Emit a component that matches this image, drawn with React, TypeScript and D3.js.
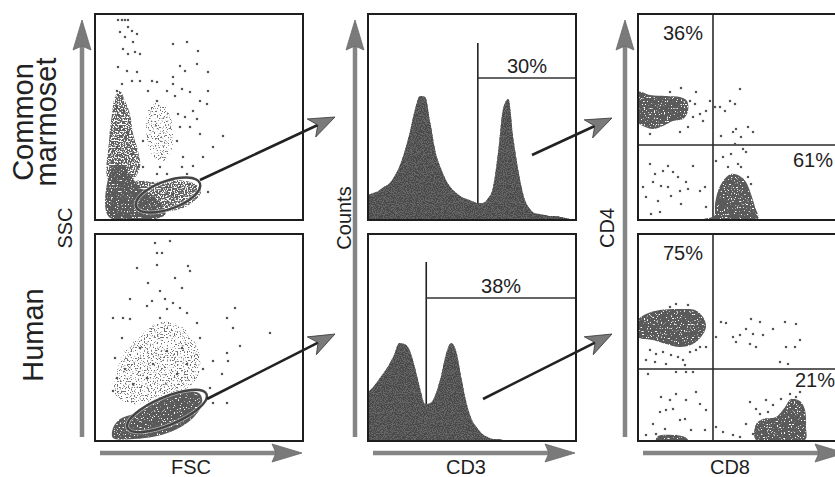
import React from "react";
import * as d3 from "d3";

type Pt = [number, number];

// ---------- FSC / SSC (relative channel units, 0-208 x 0-206) ----------
const marmosetCore: Pt[] = [[14, 3], [14, 45], [20, 55], [28, 55], [35, 45], [45, 33], [57, 24], [68, 14], [70, 5]];
const marmosetColumn: Pt[] = [[14, 39], [14, 79], [17, 106], [20, 123], [25, 129], [30, 119], [35, 106], [38, 86], [43, 69], [45, 53], [38, 41]];
const marmosetGranulo: Pt[] = [[53, 109], [60, 119], [68, 116], [75, 104], [78, 88], [76, 69], [68, 59], [59, 63], [53, 76], [51, 93]];
const marmosetGateCloud: Pt[] = [[40, 38], [60, 38], [80, 40], [100, 36], [106, 28], [98, 18], [85, 11], [60, 8], [40, 14]];
const marmosetEvents: Pt[] = [
  [23, 200], [27, 200], [30, 200], [33, 200], [25, 188], [33, 193], [37, 189], [30, 183], [38, 178], [42, 186],
  [28, 171], [33, 166], [40, 168], [45, 166], [23, 153], [32, 149], [42, 148], [37, 139], [27, 136], [22, 129],
  [45, 139], [57, 139], [62, 138], [78, 176], [92, 178], [103, 169], [85, 154], [90, 149], [102, 156], [113, 148],
  [78, 143], [87, 131], [95, 128], [80, 124], [105, 119], [112, 116], [98, 109], [90, 103], [102, 101], [95, 93],
  [105, 86], [113, 129], [128, 84], [118, 73], [108, 63], [98, 54], [113, 28], [92, 46], [87, 53], [62, 46],
  [48, 53], [53, 129], [62, 119], [72, 129], [78, 136], [22, 113], [29, 109], [25, 93], [33, 86], [22, 73],
  [37, 66], [48, 79], [82, 79], [85, 93], [83, 106], [65, 53], [72, 46], [88, 63], [58, 33], [72, 33],
  [85, 33], [95, 36], [78, 26], [100, 33],
];
const humanCore: Pt[] = [[18, 3], [18, 13], [25, 22], [38, 27], [55, 37], [72, 45], [92, 50], [105, 47], [107, 37], [98, 23], [82, 12], [62, 5], [38, 2]];
const humanCloud: Pt[] = [[20, 47], [22, 70], [32, 93], [48, 107], [62, 118], [82, 117], [97, 103], [105, 83], [102, 63], [92, 53], [65, 43], [38, 37]];
const humanEvents: Pt[] = [
  [60, 198], [75, 200], [62, 188], [67, 188], [42, 173], [62, 176], [93, 175], [95, 170], [80, 163], [53, 158],
  [65, 150], [87, 153], [70, 142], [57, 140], [78, 138], [35, 142], [52, 135], [72, 132], [85, 133], [92, 128],
  [18, 123], [28, 123], [35, 122], [65, 123], [140, 133], [175, 108], [132, 123], [138, 113], [145, 95], [132, 88],
  [133, 80], [118, 80], [108, 72], [127, 67], [115, 53], [122, 47], [132, 38], [118, 38], [105, 103], [102, 118],
  [27, 103], [20, 83], [22, 63], [18, 50], [30, 72], [38, 57], [45, 93], [87, 93], [92, 77], [82, 67],
  [58, 77], [72, 90], [52, 63], [37, 3], [45, 4],
];
// lymphocyte gates: centre, radii, tilt in degrees
const marmosetGate = { cx: 73, cy: 25, rx: 34, ry: 14, angle: -20 };
const humanGate = { cx: 72, cy: 30, rx: 43, ry: 14, angle: -23 };

// ---------- CD3 histograms ----------
const cd3Channels = d3.range(0, 1001, 25);
const marmosetCd3: number[] = [
  25, 27, 29, 33, 36, 43, 53, 68, 87, 110, 124, 123, 97, 68, 52, 40, 32, 27, 23, 21, 19,
  17, 17, 21, 32, 67, 112, 121, 80, 47, 23, 12, 7, 6, 5, 4, 4, 3, 2, 1, 1,
];
const humanCd3: number[] = [
  49, 54, 61, 68, 76, 86, 98, 97, 91, 74, 53, 37, 38, 47, 64, 87, 98, 89, 62, 37, 21,
  13, 7, 4, 2, 2, 1, 1, 1, 1, 1, 1, 1, 1, 1, 1, 1, 1, 1, 1, 1,
];
const cd3Gates = [{ cut: 528, level: 142, top: 177 }, { cut: 280, level: 143, top: 179 }];
const cd3Percents = ["30%", "38%"];

// ---------- CD8 / CD4 ----------
const marmosetCd4Core: Pt[] = [[0, 128], [12, 125], [28, 124], [42, 123], [49, 119], [50, 109], [45, 101], [35, 99], [25, 94], [15, 91], [5, 94], [0, 98]];
const marmosetCd8Core: Pt[] = [[66, 1], [76, 4], [77, 16], [80, 29], [85, 39], [93, 46], [102, 44], [108, 38], [113, 26], [117, 13], [120, 1]];
const marmosetSubsetEvents: Pt[] = [
  [52, 119], [57, 116], [62, 106], [68, 109], [72, 119], [77, 113], [82, 113], [87, 109], [92, 119], [97, 116],
  [102, 131], [58, 128], [43, 132], [32, 128], [55, 103], [65, 99], [42, 88], [12, 86], [50, 93], [83, 84],
  [95, 88], [98, 91], [103, 83], [110, 93], [115, 88], [97, 76], [105, 71], [108, 68], [93, 66], [85, 63],
  [78, 59], [100, 56], [90, 53], [110, 43], [113, 36], [103, 53], [12, 56], [17, 46], [25, 49], [30, 54],
  [35, 48], [40, 43], [15, 38], [23, 34], [30, 33], [50, 31], [55, 54], [62, 29], [67, 33], [5, 33],
  [8, 23], [20, 19], [33, 24], [43, 16], [13, 6], [22, 8], [68, 13], [48, 38], [42, 29],
];
const humanCd4Core: Pt[] = [[0, 121], [8, 127], [22, 131], [42, 132], [57, 131], [65, 124], [68, 114], [63, 104], [55, 97], [42, 94], [28, 97], [15, 101], [0, 104]];
const humanCd8Core: Pt[] = [[118, 1], [118, 17], [125, 22], [138, 24], [147, 34], [153, 42], [162, 40], [167, 31], [168, 14], [167, 1]];
const humanDnStrip: Pt[] = [[18, 1], [20, 5], [35, 6], [47, 4], [50, 1]];
const humanSubsetEvents: Pt[] = [
  [12, 91], [18, 87], [25, 89], [33, 86], [40, 84], [45, 81], [47, 76], [52, 89], [58, 91], [62, 94],
  [8, 81], [17, 79], [28, 77], [38, 69], [48, 69], [10, 67], [55, 69], [68, 94], [32, 134], [50, 136],
  [38, 137], [83, 119], [88, 118], [95, 104], [102, 106], [108, 112], [113, 122], [115, 107], [118, 94], [122, 119],
  [125, 106], [135, 112], [147, 119], [148, 94], [158, 117], [162, 101], [157, 94], [142, 79], [150, 77], [78, 104],
  [98, 99], [112, 97], [23, 44], [32, 41], [58, 49], [22, 29], [28, 31], [35, 32], [42, 21], [47, 22],
  [62, 37], [68, 31], [53, 11], [27, 12], [18, 7], [23, 4], [32, 4], [38, 5], [45, 3], [8, 6],
  [67, 11], [15, 17], [48, 41], [38, 47], [112, 39], [118, 32], [128, 41], [135, 36], [143, 42], [152, 47],
  [158, 44], [162, 37], [130, 29], [122, 27], [108, 17], [95, 6], [102, 4], [78, 14], [85, 9], [162, 49],
  [165, 32], [115, 7],
];
const quadCuts = [{ cd8: 75, cd4: 75 }, { cd8: 75, cd4: 72 }];
const cd4Percents = ["36%", "75%"];
const cd8Percents = ["61%", "21%"];

const species = [["Common", "marmoset"], ["Human"]];

// ---------- layout ----------
const W = 835;
const H = 477;
const PW = 208;
const FONT = "'Liberation Sans', Arial, Helvetica, sans-serif";
const cols = [95, 368, 638];
const rows = [{ top: 14, h: 206 }, { top: 234, h: 207 }];
const INK = "#1e1e1e";

type Cloud = { pts: Pt[]; tone: "core" | "mid" | "light" };

function headPath(tx: number, ty: number, dx: number, dy: number, len: number, half: number, notch: number) {
  const m = Math.hypot(dx, dy);
  const ux = dx / m, uy = dy / m, nx = -uy, ny = ux;
  const bx = tx - ux * len, by = ty - uy * len;
  return `M${tx},${ty}L${bx + nx * half},${by + ny * half}L${tx - ux * (len - notch)},${ty - uy * (len - notch)}L${bx - nx * half},${by - ny * half}Z`;
}

function Arrow({ from, to, axis }: { from: Pt; to: Pt; axis?: boolean }) {
  const dx = to[0] - from[0], dy = to[1] - from[1];
  const m = Math.hypot(dx, dy);
  const len = axis ? 30 : 26, half = axis ? 9 : 10, notch = axis ? 4 : 7;
  const ex = to[0] - (dx / m) * (len - notch), ey = to[1] - (dy / m) * (len - notch);
  return (
    <g>
      <line x1={from[0]} y1={from[1]} x2={ex} y2={ey} stroke={axis ? "#858585" : "#222"} strokeWidth={axis ? 4.5 : 2.6} />
      <path d={headPath(to[0], to[1], dx, dy, len, half, notch)} fill="#7a7a7a" stroke={axis ? "#6a6a6a" : "#333"} strokeWidth={0.8} />
    </g>
  );
}

function Scatter({ id, left, top, h, clouds, events, gate, quad }: {
  id: string; left: number; top: number; h: number; clouds: Cloud[]; events: Pt[];
  gate?: { cx: number; cy: number; rx: number; ry: number; angle: number };
  quad?: { cd8: number; cd4: number };
}) {
  const x = d3.scaleLinear().domain([0, PW]).range([left, left + PW]);
  const y = d3.scaleLinear().domain([0, h]).range([top + h, top]);
  const blob = d3.line<Pt>().x((d) => x(d[0])).y((d) => y(d[1])).curve(d3.curveCatmullRomClosed.alpha(0.5));
  const fills = { core: "#5a5a5a", mid: "#606060", light: "#707070" };
  const filters = { core: "url(#grainDense)", mid: "url(#grainMid)", light: "url(#grainSparse)" };
  const ell = gate && {
    cx: x(gate.cx), cy: y(gate.cy),
    rx: x(gate.rx) - x(0), ry: y(0) - y(gate.ry),
    transform: `rotate(${gate.angle} ${x(gate.cx)} ${y(gate.cy)})`,
  };
  return (
    <g>
      <clipPath id={id}>
        <rect x={left} y={top} width={PW} height={h} />
      </clipPath>
      <g clipPath={`url(#${id})`}>
        {quad && (
          <g stroke="#2a2a2a" strokeWidth={1.6}>
            <line x1={x(quad.cd8)} x2={x(quad.cd8)} y1={y(0)} y2={y(h)} />
            <line x1={x(0)} x2={x(PW)} y1={y(quad.cd4)} y2={y(quad.cd4)} />
          </g>
        )}
        {clouds.map((c, i) => (
          <path key={i} d={blob(c.pts) ?? ""} fill={fills[c.tone]} filter={filters[c.tone]} />
        ))}
        {events.map((d, i) => (
          <rect key={i} x={x(d[0]) - 1.1} y={y(d[1]) - 1.1} width={2.2} height={2.2} fill="#555" />
        ))}
        {ell && (
          <g>
            <ellipse {...ell} fill="none" stroke="#fff" strokeOpacity={0.5} strokeWidth={4} />
            <ellipse {...ell} fill="none" stroke="#444" strokeWidth={2.4} />
          </g>
        )}
      </g>
      <rect x={left} y={top} width={PW} height={h} fill="none" stroke={INK} strokeWidth={2} />
    </g>
  );
}

function Histogram({ left, top, h, counts, gate, label }: {
  left: number; top: number; h: number; counts: number[];
  gate: { cut: number; level: number; top: number }; label: string;
}) {
  const x = d3.scaleLinear().domain([0, 1000]).range([left, left + PW]);
  const y = d3.scaleLinear().domain([0, h]).range([top + h, top]);
  const area = d3.area<number>()
    .x((_, i) => x(cd3Channels[i]))
    .y0(y(0))
    .y1((d) => y(d))
    .curve(d3.curveMonotoneX);
  return (
    <g>
      <line x1={x(gate.cut)} x2={x(gate.cut)} y1={y(0)} y2={y(gate.top)} stroke="#222" strokeWidth={1.6} />
      <line x1={x(gate.cut)} x2={x(1000)} y1={y(gate.level)} y2={y(gate.level)} stroke="#333" strokeWidth={1.6} />
      <path d={area(counts) ?? ""} fill="#666" />
      <path d={area(counts) ?? ""} fill="#4a4a4a" filter="url(#grainFine)" />
      <text x={(x(gate.cut) + x(1000)) / 2} y={y(gate.level) - 5} textAnchor="middle" fontSize={20} fill={INK}>{label}</text>
      <rect x={left} y={top} width={PW} height={h} fill="none" stroke={INK} strokeWidth={2} />
    </g>
  );
}

function Grain({ id, cut, freq }: { id: string; cut: number; freq: number }) {
  return (
    <filter id={id} x="0" y="0" width="1" height="1" filterUnits="objectBoundingBox">
      <feTurbulence type="fractalNoise" baseFrequency={freq} numOctaves={1} seed={7} result="noise" />
      <feColorMatrix in="noise" type="matrix" values={`0 0 0 0 0  0 0 0 0 0  0 0 0 0 0  12 0 0 0 ${-12 * cut}`} result="mask" />
      <feComposite in="SourceGraphic" in2="mask" operator="in" />
    </filter>
  );
}

export default function App() {
  const vLabelY = 228;
  return (
    <svg width={W} height={H} viewBox={`0 0 ${W} ${H}`} style={{ position: "absolute", left: 0, top: 0, background: "#fff" }} fontFamily={FONT}>
      <defs>
        <Grain id="grainDense" cut={0.3} freq={0.7} />
        <Grain id="grainMid" cut={0.42} freq={0.7} />
        <Grain id="grainSparse" cut={0.56} freq={0.7} />
        <Grain id="grainFine" cut={0.45} freq={0.9} />
      </defs>

      {/* species labels */}
      <text transform={`translate(33,122) rotate(-90)`} textAnchor="middle" fontSize={29} fill="#222">{species[0][0]}</text>
      <text transform={`translate(56,122) rotate(-90)`} textAnchor="middle" fontSize={29} fill="#222">{species[0][1]}</text>
      <text transform={`translate(43,335) rotate(-90)`} textAnchor="middle" fontSize={29} fill="#222">{species[1][0]}</text>

      {/* axis arrows */}
      {cols.map((c, i) => (
        <g key={i}>
          <Arrow axis from={[c - 13, 437]} to={[c - 13, 20]} />
          <Arrow axis from={[c + 5, 453]} to={[c + PW - 1, 453]} />
        </g>
      ))}
      <g fontSize={20} fill={INK}>
        <text transform={`translate(72,${vLabelY}) rotate(-90)`} textAnchor="middle">SSC</text>
        <text transform={`translate(351,${vLabelY - 10}) rotate(-90)`} textAnchor="middle">Counts</text>
        <text transform={`translate(614,${vLabelY}) rotate(-90)`} textAnchor="middle">CD4</text>
        <text x={191} y={474} textAnchor="middle">FSC</text>
        <text x={466} y={474} textAnchor="middle">CD3</text>
        <text x={730} y={474} textAnchor="middle">CD8</text>
      </g>

      {/* FSC / SSC */}
      <Scatter id="s1" left={cols[0]} top={rows[0].top} h={rows[0].h}
        clouds={[{ pts: marmosetColumn, tone: "mid" }, { pts: marmosetGranulo, tone: "light" }, { pts: marmosetGateCloud, tone: "mid" }, { pts: marmosetCore, tone: "core" }]}
        events={marmosetEvents} gate={marmosetGate} />
      <Scatter id="s2" left={cols[0]} top={rows[1].top} h={rows[1].h}
        clouds={[{ pts: humanCloud, tone: "light" }, { pts: humanCore, tone: "core" }]}
        events={humanEvents} gate={humanGate} />

      {/* CD3 */}
      <Histogram left={cols[1]} top={rows[0].top} h={rows[0].h} counts={marmosetCd3} gate={cd3Gates[0]} label={cd3Percents[0]} />
      <Histogram left={cols[1]} top={rows[1].top} h={rows[1].h} counts={humanCd3} gate={cd3Gates[1]} label={cd3Percents[1]} />

      {/* CD8 / CD4 */}
      <Scatter id="s3" left={cols[2]} top={rows[0].top} h={rows[0].h}
        clouds={[{ pts: marmosetCd4Core, tone: "core" }, { pts: marmosetCd8Core, tone: "core" }]}
        events={marmosetSubsetEvents} quad={quadCuts[0]} />
      <Scatter id="s4" left={cols[2]} top={rows[1].top} h={rows[1].h}
        clouds={[{ pts: humanCd4Core, tone: "core" }, { pts: humanCd8Core, tone: "core" }, { pts: humanDnStrip, tone: "core" }]}
        events={humanSubsetEvents} quad={quadCuts[1]} />
      <g fontSize={20} fill={INK}>
        <text x={683} y={40} textAnchor="middle">{cd4Percents[0]}</text>
        <text x={793} y={167}>{cd8Percents[0]}</text>
        <text x={683} y={260} textAnchor="middle">{cd4Percents[1]}</text>
        <text x={795} y={387}>{cd8Percents[1]}</text>
      </g>

      {/* gate-to-gate arrows */}
      <Arrow from={[200, 180]} to={[335, 117]} />
      <Arrow from={[207, 399]} to={[335, 334]} />
      <Arrow from={[532, 155]} to={[612, 118]} />
      <Arrow from={[483, 399]} to={[612, 334]} />
    </svg>
  );
}
